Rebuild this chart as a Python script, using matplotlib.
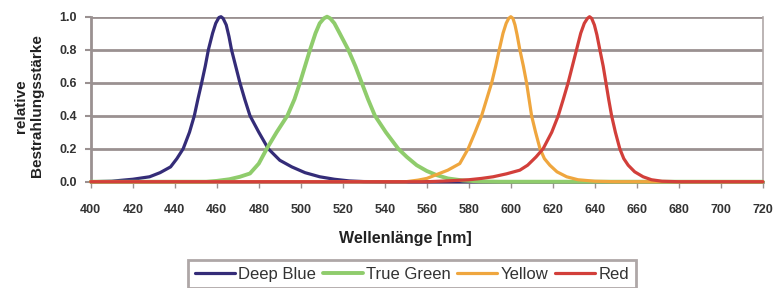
import matplotlib
matplotlib.use("Agg")
import matplotlib.pyplot as plt

plt.rcParams['font.family'] = ['Liberation Sans', 'DejaVu Sans']

# wavelength (nm) / relative irradiance
blue_nm = [400, 410, 414, 420, 428, 433, 438, 441, 444, 447, 449.3, 451, 452.8, 454.5, 456, 458,
           459.5, 461, 462, 463, 464.5, 465.8, 467, 469, 471, 473.3, 475.8, 480, 484.5, 490, 495.7,
           502, 509, 516, 523, 530, 540, 720]
blue_val = [0, 0.003, 0.008, 0.015, 0.03, 0.055, 0.09, 0.14, 0.2, 0.3, 0.4, 0.5, 0.6, 0.7, 0.8, 0.9,
            0.96, 0.995, 1.0, 0.99, 0.95, 0.88, 0.8, 0.7, 0.6, 0.5, 0.4, 0.3, 0.2, 0.13, 0.09,
            0.055, 0.03, 0.015, 0.005, 0.001, 0, 0]

green_nm = [400, 455, 460, 466, 471, 475.8, 480, 483.8, 488.5, 493.6, 497, 499.6, 502, 504.4, 507,
            509, 511, 512.5, 514, 516, 518.5, 522.6, 526, 529, 532, 535.3, 540.5, 546.4, 550.5,
            555.2, 560, 564.7, 570, 577, 585, 595, 720]
green_val = [0, 0, 0.005, 0.015, 0.03, 0.05, 0.11, 0.2, 0.3, 0.4, 0.5, 0.6, 0.7, 0.8, 0.9,
             0.96, 0.99, 1.0, 0.99, 0.96, 0.9, 0.8, 0.7, 0.6, 0.5, 0.4, 0.3, 0.2, 0.15,
             0.1, 0.065, 0.04, 0.02, 0.008, 0.002, 0, 0]

yellow_nm = [400, 550, 556, 560, 565, 570, 575.7, 579.7, 583, 586.1, 588.5, 590.9, 592.8, 594.5,
             596.3, 597.8, 599, 600, 601, 602, 603, 604.3, 606, 607.5, 608.7, 609.9, 611.8, 613.9,
             616, 618.6, 622, 626.6, 632, 640, 650, 720]
yellow_val = [0, 0, 0.01, 0.02, 0.045, 0.07, 0.11, 0.2, 0.3, 0.4, 0.5, 0.6, 0.7, 0.8,
              0.9, 0.96, 0.99, 1.0, 0.99, 0.95, 0.89, 0.8, 0.7, 0.6, 0.5, 0.4, 0.3, 0.2,
              0.14, 0.1, 0.06, 0.03, 0.012, 0.003, 0, 0]

red_nm = [400, 560, 570, 580, 586, 591.6, 598, 604.3, 608, 612, 615.4, 619.5, 622.6, 625, 627.3,
          629.3, 631.3, 633.3, 635, 636.5, 637.5, 638.5, 639.8, 641, 642.4, 644, 645.3, 646.6, 648,
          649.8, 651.9, 653.8, 655.9, 659, 663, 667, 672, 680, 720]
red_val = [0, 0, 0.005, 0.012, 0.02, 0.03, 0.048, 0.07, 0.1, 0.15, 0.2, 0.3, 0.4, 0.5, 0.6,
           0.7, 0.8, 0.9, 0.96, 0.99, 1.0, 0.99, 0.95, 0.89, 0.8, 0.7, 0.6, 0.5, 0.4,
           0.3, 0.2, 0.14, 0.1, 0.06, 0.03, 0.012, 0.003, 0, 0]

series_names = ['Deep Blue', 'True Green', 'Yellow', 'Red']
x_ticks = list(range(400, 721, 20))
y_ticks = [0.0, 0.2, 0.4, 0.6, 0.8, 1.0]

grid_col = '#9a9191'

fig = plt.figure(figsize=(7.76, 2.88), dpi=100)
ax = fig.add_axes([0.117, 0.369, 0.866, 0.573])

line_kw = dict(clip_on=False, zorder=3, solid_joinstyle='round', solid_capstyle='round')
ax.plot(blue_nm, blue_val, color='#342c78', lw=2.3, label=series_names[0], **line_kw)
ax.plot(green_nm, green_val, color='#8fcc6c', lw=2.8, label=series_names[1], **line_kw)
ax.plot(yellow_nm, yellow_val, color='#efa63e', lw=2.3, label=series_names[2], **line_kw)
ax.plot(red_nm, red_val, color='#d23f3a', lw=2.3, label=series_names[3], **line_kw)

ax.set_xlim(400, 720)
ax.set_ylim(0, 1)
ax.set_xticks(x_ticks)
ax.set_yticks(y_ticks)
ax.set_xticklabels([str(v) for v in x_ticks], fontsize=9, fontweight='bold', color='#333333')
ax.set_yticklabels(['%.1f' % v for v in y_ticks], fontsize=9, fontweight='bold', color='#333333')
ax.tick_params(axis='x', length=4, width=1, color=grid_col, pad=12)
ax.tick_params(axis='y', length=4, width=1.5, color=grid_col, pad=6)

ax.grid(axis='y', color=grid_col, lw=2)
ax.set_axisbelow(True)
for side in ['left', 'bottom']:
    ax.spines[side].set_color(grid_col)
    ax.spines[side].set_linewidth(2)
ax.spines['right'].set_color('#b0a8a8')
ax.spines['right'].set_linewidth(1.2)
ax.spines['top'].set_visible(False)

fig.text(405 / 776, 1 - 238 / 288, 'Wellenlänge [nm]', ha='center', va='center',
         fontsize=11.5, fontweight='bold', color='#222222')
fig.text(29 / 776, 1 - 106 / 288, 'relative\nBestrahlungsstärke', ha='center', va='center',
         rotation=90, fontsize=11, fontweight='bold', color='#222222', linespacing=1.15)

leg = fig.legend(loc='upper left', bbox_to_anchor=(188 / 776, 1 - 260 / 288), ncol=4,
                 fontsize=12, frameon=True, fancybox=False, handlelength=2.4,
                 handletextpad=0.2, columnspacing=0.4, borderpad=0.4, borderaxespad=0)
leg.get_frame().set_edgecolor(grid_col)
leg.get_frame().set_linewidth(2)
for t in leg.get_texts():
    t.set_color('#333333')

fig.savefig('out.png', dpi=100)
